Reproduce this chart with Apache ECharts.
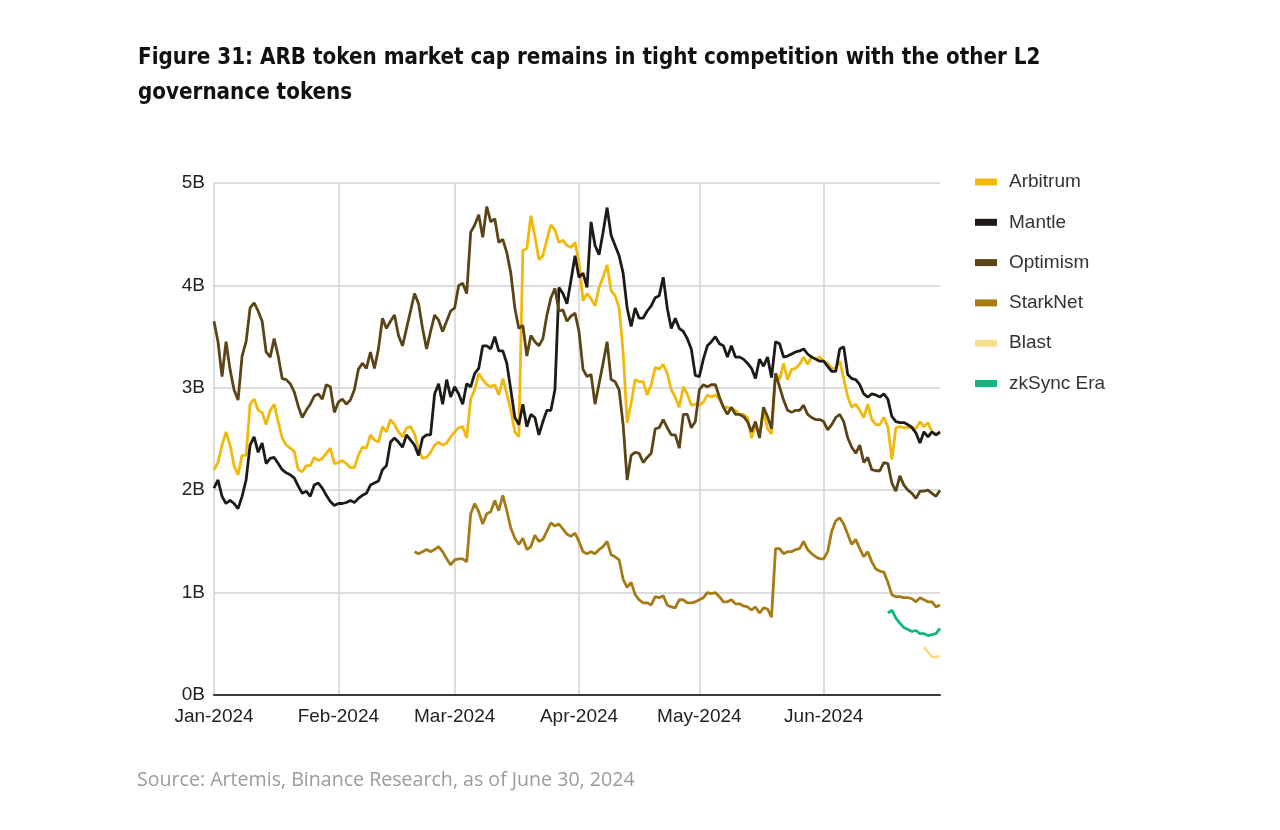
<!DOCTYPE html>
<html>
<head>
<meta charset="utf-8">
<script src="https://cdn.jsdelivr.net/npm/echarts@6/dist/echarts.min.js"></script>
<style>
html,body{margin:0;padding:0;background:#fff;}
#chart{width:1280px;height:830px;}
</style>
</head>
<body>
<div id="chart"></div>
<script>
// ---- data (daily market cap, billions USD) ----
const startDate = '2024-01-01';
const endDate = '2024-06-30';
const monthLabels = ['Jan-2024','Feb-2024','Mar-2024','Apr-2024','May-2024','Jun-2024'];
const yTicks = [0, 1, 2, 3, 4, 5];

const arbitrum = [
2.20,2.27,2.44,2.57,2.44,2.24,2.15,2.34,2.34,2.84,
2.89,2.78,2.76,2.64,2.78,2.84,2.67,2.51,2.44,2.41,
2.38,2.20,2.18,2.24,2.24,2.32,2.29,2.31,2.36,2.41,
2.26,2.27,2.29,2.26,2.22,2.22,2.34,2.42,2.41,2.54,
2.49,2.47,2.62,2.57,2.69,2.64,2.57,2.52,2.61,2.62,
2.55,2.40,2.31,2.32,2.37,2.44,2.47,2.44,2.46,2.52,
2.57,2.61,2.62,2.51,2.89,2.98,3.14,3.08,3.03,3.01,
3.03,2.93,3.09,2.94,2.78,2.57,2.52,4.34,4.36,4.68,
4.48,4.25,4.29,4.45,4.59,4.54,4.42,4.44,4.39,4.37,
4.42,4.22,3.85,3.92,3.87,3.80,3.98,4.08,4.20,3.95,
3.90,3.78,3.35,2.66,2.85,3.08,3.06,3.06,2.93,3.03,
3.20,3.18,3.23,3.14,2.98,2.91,2.81,3.01,2.94,2.83,
2.84,2.83,2.86,2.93,2.91,2.93,2.89,2.81,2.81,2.79,
2.78,2.74,2.74,2.71,2.51,2.64,2.54,2.78,2.60,2.55,
3.14,3.08,3.24,3.08,3.18,3.19,3.23,3.30,3.23,3.30,
3.28,3.30,3.26,3.24,3.19,3.19,3.26,3.09,2.91,2.81,
2.84,2.78,2.71,2.84,2.69,2.64,2.64,2.71,2.62,2.30,
2.61,2.62,2.61,2.61,2.62,2.60,2.67,2.62,2.66,2.57,
2.54,2.56];

const mantle = [
2.02,2.10,1.94,1.87,1.90,1.87,1.82,1.94,2.10,2.44,
2.52,2.37,2.46,2.26,2.31,2.32,2.26,2.20,2.17,2.15,
2.12,2.04,1.97,1.99,1.94,2.05,2.07,2.02,1.95,1.89,
1.85,1.87,1.87,1.88,1.90,1.88,1.92,1.95,1.97,2.05,
2.07,2.09,2.20,2.24,2.47,2.51,2.47,2.42,2.54,2.49,
2.44,2.34,2.51,2.54,2.54,2.94,3.04,2.84,3.08,2.91,
3.01,2.94,2.84,3.04,3.01,3.14,3.19,3.41,3.41,3.38,
3.50,3.36,3.36,3.24,2.98,2.71,2.64,2.84,2.62,2.74,
2.71,2.54,2.67,2.78,2.78,2.98,3.98,3.92,3.82,4.05,
4.29,4.08,4.12,3.98,4.62,4.39,4.30,4.52,4.76,4.49,
4.39,4.29,4.12,3.78,3.60,3.78,3.68,3.68,3.75,3.80,
3.88,3.90,4.08,3.78,3.58,3.68,3.58,3.55,3.48,3.38,
3.12,3.11,3.28,3.41,3.45,3.50,3.43,3.41,3.30,3.41,
3.30,3.30,3.28,3.24,3.19,3.09,3.28,3.21,3.30,3.10,
3.45,3.43,3.30,3.31,3.33,3.35,3.36,3.38,3.33,3.30,
3.28,3.26,3.26,3.21,3.16,3.16,3.38,3.40,3.13,3.09,
3.08,3.03,2.94,2.91,2.94,2.93,2.91,2.94,2.89,2.72,
2.67,2.66,2.66,2.64,2.61,2.56,2.46,2.57,2.52,2.57,
2.54,2.57];

const optimism = [
3.65,3.45,3.11,3.45,3.18,2.98,2.88,3.31,3.45,3.78,
3.83,3.75,3.65,3.35,3.30,3.48,3.31,3.09,3.08,3.04,
2.96,2.82,2.71,2.78,2.84,2.92,2.94,2.89,3.03,3.01,
2.76,2.86,2.89,2.84,2.88,2.98,3.18,3.24,3.19,3.35,
3.19,3.38,3.68,3.58,3.65,3.71,3.51,3.41,3.58,3.75,
3.92,3.82,3.58,3.38,3.55,3.71,3.66,3.55,3.65,3.75,
3.78,4.00,4.02,3.92,4.52,4.59,4.69,4.47,4.77,4.62,
4.65,4.42,4.45,4.32,4.12,3.78,3.58,3.61,3.31,3.51,
3.45,3.41,3.48,3.71,3.88,3.97,3.75,3.76,3.65,3.70,
3.73,3.55,3.18,3.11,3.13,2.84,3.04,3.24,3.45,3.08,
3.06,2.98,2.64,2.10,2.34,2.37,2.36,2.27,2.32,2.36,
2.60,2.61,2.69,2.61,2.54,2.54,2.41,2.74,2.74,2.61,
2.67,2.98,3.03,3.01,3.03,3.03,2.91,2.81,2.74,2.81,
2.74,2.74,2.72,2.67,2.57,2.67,2.51,2.81,2.72,2.60,
3.14,3.01,2.88,2.78,2.76,2.78,2.78,2.83,2.74,2.71,
2.69,2.69,2.67,2.59,2.64,2.71,2.74,2.67,2.51,2.42,
2.36,2.44,2.27,2.32,2.20,2.19,2.19,2.27,2.26,2.07,
1.99,2.14,2.05,2.00,1.97,1.92,1.99,1.99,2.00,1.97,
1.94,2.00];

const starknetStart = '2024-02-20';
const starknet = [
1.40,1.38,1.40,1.42,1.40,1.42,1.45,1.40,1.33,1.27,
1.32,1.33,1.33,1.30,1.77,1.87,1.79,1.67,1.77,1.79,
1.90,1.80,1.95,1.80,1.63,1.53,1.47,1.53,1.42,1.45,
1.56,1.50,1.52,1.60,1.68,1.65,1.67,1.62,1.57,1.55,
1.58,1.50,1.40,1.38,1.40,1.38,1.42,1.45,1.50,1.37,
1.35,1.32,1.13,1.05,1.10,0.98,0.93,0.90,0.90,0.88,
0.96,0.95,0.97,0.88,0.86,0.85,0.93,0.93,0.90,0.90,
0.91,0.93,0.95,1.00,0.99,1.00,0.96,0.91,0.91,0.93,
0.89,0.89,0.87,0.86,0.83,0.86,0.80,0.85,0.84,0.76,
1.43,1.43,1.38,1.40,1.40,1.42,1.43,1.50,1.42,1.38,
1.35,1.33,1.33,1.40,1.60,1.70,1.73,1.67,1.57,1.47,
1.52,1.43,1.35,1.40,1.30,1.23,1.21,1.20,1.10,0.98,
0.96,0.96,0.95,0.95,0.94,0.91,0.95,0.93,0.91,0.91,
0.86,0.88];

const blastStart = '2024-06-26';
const blast = [0.47,0.42,0.37,0.37,0.38];

const zksyncStart = '2024-06-17';
const zksync = [0.80,0.83,0.75,0.70,0.66,0.64,0.62,0.63,0.60,0.60,0.58,0.59,0.60,0.65];

// ---- build category axis ----
const dates = [];
for (let t = Date.parse(startDate + 'T00:00:00Z'); t <= Date.parse(endDate + 'T00:00:00Z'); t += 86400000) {
  dates.push(new Date(t).toISOString().slice(0, 10));
}
function pad(start, vals) {
  const off = dates.indexOf(start);
  return new Array(off).fill(null).concat(vals);
}
const isMonthStart = (i, v) => String(v).slice(8) === '01';

const colors = {
  Arbitrum: '#F0B90B',
  Mantle: '#1E1B16',
  Optimism: '#5B4416',
  StarkNet: '#A67B16',
  Blast: '#F8DD8E',
  'zkSync Era': '#10B67A'
};

function line(name, data) {
  return {
    name, type: 'line', data, showSymbol: false, symbol: 'none',
    connectNulls: false,
    lineStyle: { width: 2.8, color: colors[name] },
    itemStyle: { color: colors[name] },
    emphasis: { disabled: true }
  };
}

const chart = echarts.init(document.getElementById('chart'), null, { renderer: 'canvas' });
chart.setOption({
  animation: false,
  backgroundColor: '#ffffff',
  title: {
    text: 'Figure 31: ARB token market cap remains in tight competition with the other L2\ngovernance tokens',
    left: 133, top: 36,
    textStyle: {
      fontFamily: "'DejaVu Sans Condensed', Roboto, sans-serif",
      fontSize: 22.2, fontWeight: 'bold', color: '#111111', lineHeight: 35
    }
  },
  graphic: [{
    type: 'text', left: 137, top: 770,
    style: {
      text: 'Source: Artemis, Binance Research, as of June 30, 2024',
      fill: '#9b9b9b', fontSize: 19.6, fontFamily: "'Open Sans', 'Noto Sans', sans-serif"
    }
  }],
  legend: {
    orient: 'vertical', left: 975, top: 171, padding: 0,
    icon: 'rect', itemWidth: 22, itemHeight: 7, itemGap: 18.3,
    textStyle: { fontSize: 19, color: '#333333', fontFamily: "'Liberation Sans', Arial, sans-serif", padding: [0, 0, 0, 7], lineHeight: 22 },
    data: ['Arbitrum', 'Mantle', 'Optimism', 'StarkNet', 'Blast', 'zkSync Era']
  },
  grid: { left: 214, right: 340, top: 183, bottom: 135, containLabel: false },
  xAxis: {
    type: 'category', data: dates, boundaryGap: false,
    axisLine: { show: true, lineStyle: { color: '#3a3a3a', width: 2 } },
    axisTick: { show: false },
    axisLabel: {
      interval: isMonthStart, margin: 12,
      fontSize: 19, color: '#222222', fontFamily: "'Liberation Sans', Arial, sans-serif",
      formatter: v => monthLabels[Number(v.slice(5, 7)) - 1]
    },
    splitLine: { show: true, interval: isMonthStart, lineStyle: { color: '#d2d2d2', width: 1.5 } }
  },
  yAxis: {
    type: 'value', min: yTicks[0], max: yTicks[yTicks.length - 1], interval: 1,
    axisLine: { show: false }, axisTick: { show: false },
    axisLabel: { formatter: '{value}B', margin: 9, fontSize: 19, color: '#222222', fontFamily: "'Liberation Sans', Arial, sans-serif" },
    splitLine: { show: true, lineStyle: { color: '#d2d2d2', width: 1.5 } }
  },
  series: [
    line('Arbitrum', arbitrum),
    line('Mantle', mantle),
    line('Optimism', optimism),
    line('StarkNet', pad(starknetStart, starknet)),
    line('Blast', pad(blastStart, blast)),
    line('zkSync Era', pad(zksyncStart, zksync))
  ]
});
</script>
</body>
</html>
